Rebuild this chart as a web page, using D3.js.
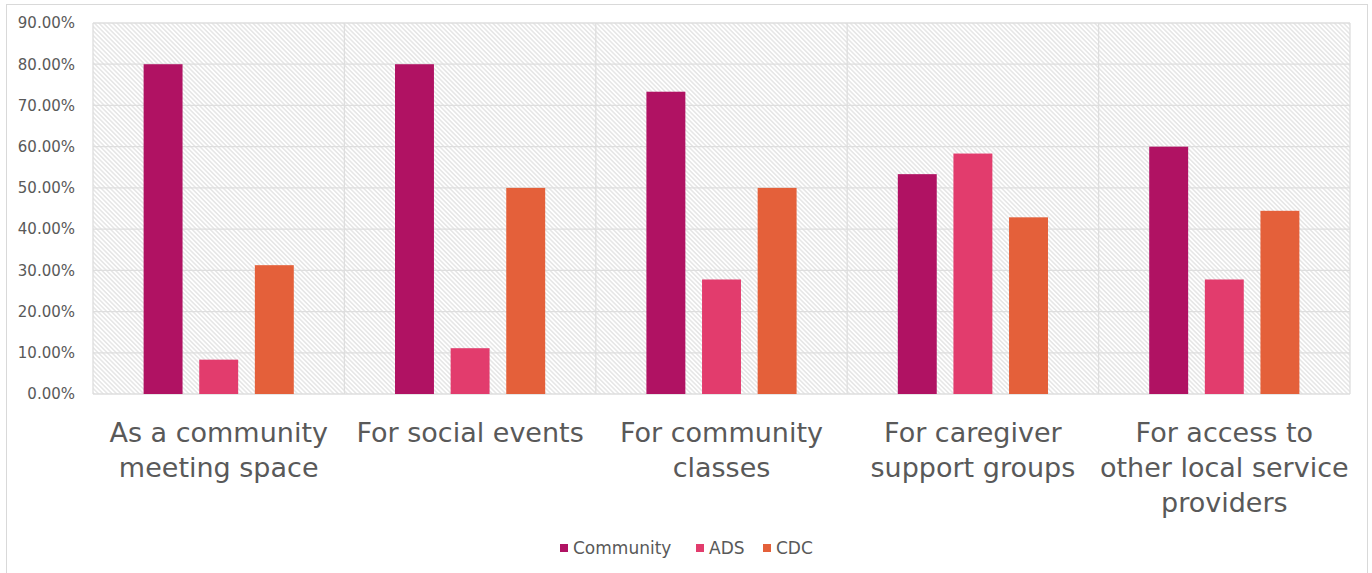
<!DOCTYPE html>
<html>
<head>
<meta charset="utf-8">
<script src="https://cdn.jsdelivr.net/npm/d3@7"></script>
<style>
  body { margin: 0; background: #fff; }
  text { font-family: "DejaVu Sans", sans-serif; fill: #595959; }
</style>
</head>
<body>
<div id="chart"></div>
<script>
const categories = [
    ["As a community", "meeting space"],
    ["For social events"],
    ["For community", "classes"],
    ["For caregiver", "support groups"],
    ["For access to", "other local service", "providers"]
];
const seriesNames = ["Community", "ADS", "CDC"];
const community = [0.80, 0.80, 0.7333, 0.5333, 0.60];
const ads = [0.0833, 0.1111, 0.2778, 0.5833, 0.2778];
const cdc = [0.3125, 0.50, 0.50, 0.4286, 0.4444];
const yTicks = [0, 0.1, 0.2, 0.3, 0.4, 0.5, 0.6, 0.7, 0.8, 0.9];
const colors = ["#B01263", "#E23C6D", "#E4603A"];

const W = 1372, H = 573;
const plot = {left: 93, right: 1350, top: 23, bottom: 394};

const svg = d3.select("#chart").append("svg")
    .attr("width", W)
    .attr("height", H);

// hatch fill of the plot area
const defs = svg.append("defs");
const pat = defs.append("pattern")
    .attr("id", "hatch")
    .attr("patternUnits", "userSpaceOnUse")
    .attr("width", 3.2)
    .attr("height", 3.2)
    .attr("patternTransform", "rotate(45)");
pat.append("rect").attr("width", 3.2).attr("height", 3.2).attr("fill", "#fff");
pat.append("line")
    .attr("x1", 0).attr("y1", 0.8).attr("x2", 3.2).attr("y2", 0.8)
    .attr("stroke", "#d9d9d9").attr("stroke-width", 1);

// chart border
svg.append("rect")
    .attr("x", 6.5).attr("y", 4.5)
    .attr("width", 1361).attr("height", 580)
    .attr("fill", "#fff")
    .attr("stroke", "#d9d9d9");

const x0 = d3.scaleBand()
    .domain(d3.range(categories.length))
    .range([plot.left, plot.right]);

const x1 = d3.scaleBand()
    .domain(seriesNames)
    .range([0, x0.bandwidth()])
    .paddingInner(0.3)
    .paddingOuter(0.91);

const y = d3.scaleLinear()
    .domain([0, 0.9])
    .range([plot.bottom, plot.top]);

svg.append("rect")
    .attr("x", plot.left).attr("y", plot.top)
    .attr("width", plot.right - plot.left)
    .attr("height", plot.bottom - plot.top)
    .attr("fill", "url(#hatch)");

// gridlines
svg.append("g")
    .selectAll("line")
    .data(yTicks)
    .join("line")
    .attr("x1", plot.left).attr("x2", plot.right)
    .attr("y1", d => y(d)).attr("y2", d => y(d))
    .attr("stroke", "#dedede")
    .attr("stroke-width", 1.3);

svg.append("g")
    .selectAll("line")
    .data(d3.range(categories.length + 1))
    .join("line")
    .attr("x1", d => d < categories.length ? x0(d) : plot.right)
    .attr("x2", d => d < categories.length ? x0(d) : plot.right)
    .attr("y1", plot.top).attr("y2", plot.bottom)
    .attr("stroke", "#dedede")
    .attr("stroke-width", 1.3);

// y axis labels
const yAxis = svg.append("g")
    .attr("transform", `translate(${plot.left}, 0)`)
    .call(d3.axisLeft(y).tickValues(yTicks).tickFormat(d3.format(".2%")).tickSize(0).tickPadding(18));
yAxis.select(".domain").remove();
yAxis.selectAll("text")
    .style("font-family", '"DejaVu Sans", sans-serif')
    .style("font-size", "15px")
    .attr("fill", "#595959");

// bars
const seriesData = [community, ads, cdc];
const groups = svg.append("g")
    .selectAll("g")
    .data(seriesData)
    .join("g")
    .attr("fill", (d, i) => colors[i]);

groups.selectAll("rect")
    .data((vals, si) => vals.map((v, ci) => ({v, ci, s: seriesNames[si]})))
    .join("rect")
    .attr("x", d => x0(d.ci) + x1(d.s))
    .attr("width", x1.bandwidth())
    .attr("y", d => y(d.v))
    .attr("height", d => y(0) - y(d.v));

// category labels
const catLabels = svg.append("g")
    .selectAll("text")
    .data(categories)
    .join("text")
    .attr("text-anchor", "middle")
    .style("font-size", "27px")
    .attr("x", (d, i) => x0(i) + x0.bandwidth() / 2)
    .attr("y", 442);
catLabels.selectAll("tspan")
    .data(d => d)
    .join("tspan")
    .attr("x", function() { return this.parentNode.getAttribute("x"); })
    .attr("dy", (d, i) => i === 0 ? 0 : 35)
    .text(d => d);

// legend
const legendX = [560, 696, 763];
const legend = svg.append("g")
    .selectAll("g")
    .data(seriesNames)
    .join("g")
    .attr("transform", (d, i) => `translate(${legendX[i]}, 544)`);
legend.append("rect")
    .attr("width", 8).attr("height", 8)
    .attr("fill", (d, i) => colors[i]);
legend.append("text")
    .attr("x", 13).attr("y", 10)
    .style("font-size", "17px")
    .text(d => d);
</script>
</body>
</html>
